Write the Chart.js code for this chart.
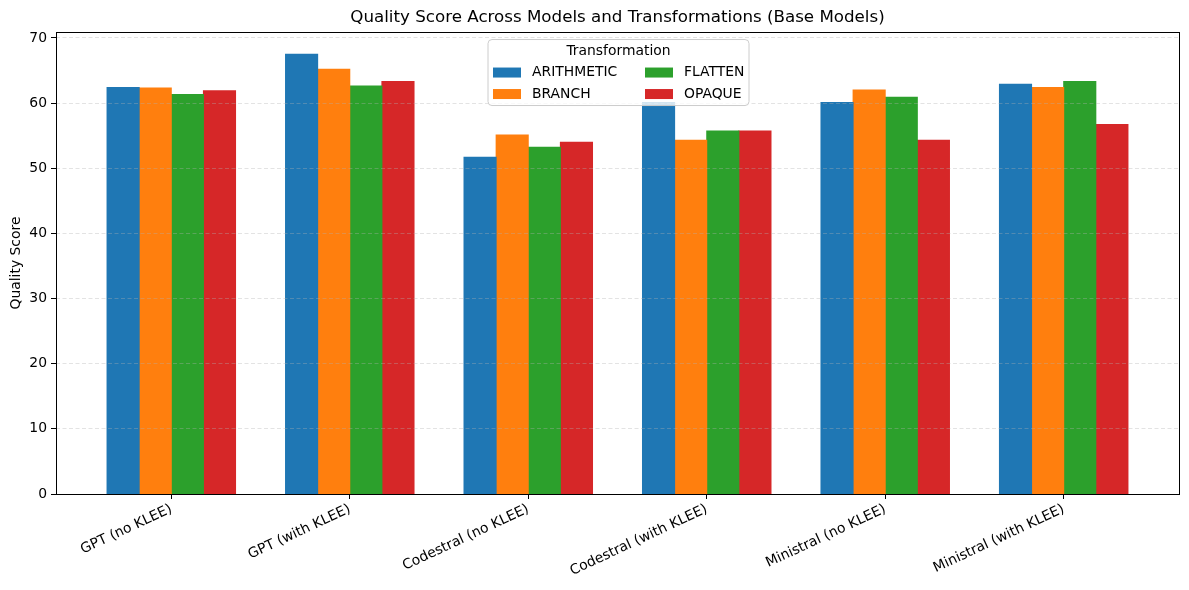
<!DOCTYPE html>
<html>
<head>
<meta charset="utf-8">
<script src="https://cdn.jsdelivr.net/npm/chart.js@4"></script>
<style>
  html, body { margin: 0; padding: 0; background: #fff; }
  canvas { display: block; }
</style>
</head>
<body>
<canvas id="myChart" width="1189" height="590"></canvas>
<script>
const categories = ['GPT (no KLEE)', 'GPT (with KLEE)', 'Codestral (no KLEE)', 'Codestral (with KLEE)', 'Ministral (no KLEE)', 'Ministral (with KLEE)'];
const arithmetic = [62.4, 67.5, 51.7, 60.1, 60.1, 62.9];
const branch     = [62.3, 65.2, 55.1, 54.3, 62.0, 62.4];
const flatten    = [61.3, 62.6, 53.2, 55.7, 60.9, 63.3];
const opaque     = [61.9, 63.3, 54.0, 55.7, 54.3, 56.7];
const yTicks = [0, 10, 20, 30, 40, 50, 60, 70];

const seriesNames = ['ARITHMETIC', 'BRANCH', 'FLATTEN', 'OPAQUE'];
const seriesValues = [arithmetic, branch, flatten, opaque];
const colors = ['#1f77b4', '#ff7f0e', '#2ca02c', '#d62728'];

Chart.defaults.font.family = 'DejaVu Sans';
Chart.defaults.font.size = 13.9;
Chart.defaults.color = '#000';

const ctx = document.getElementById('myChart');

// full box round the plot, like matplotlib spines
const framePlugin = {
  id: 'frame',
  afterDraw: (chart) => {
    const {ctx, chartArea: a} = chart;
    ctx.save();
    ctx.strokeStyle = '#000';
    ctx.lineWidth = 1;
    ctx.strokeRect(Math.round(a.left) + 0.5, Math.round(a.top) + 0.5,
      Math.round(a.right - a.left), Math.round(a.bottom - a.top));
    ctx.restore();
  }
};

// legend inside the plot, top centre, two columns
const boxLegend = {
  id: 'boxLegend',
  afterDraw: (chart) => {
    const {ctx, chartArea: a} = chart;
    const w = 261, h = 66;
    const x0 = (a.left + a.right) / 2 - w / 2 + 1;
    const y0 = a.top + 7.5;
    ctx.save();
    ctx.beginPath();
    ctx.roundRect(x0, y0, w, h, 4);
    ctx.fillStyle = 'rgba(255,255,255,0.8)';
    ctx.fill();
    ctx.strokeStyle = '#cccccc';
    ctx.lineWidth = 1;
    ctx.stroke();

    ctx.fillStyle = '#000';
    ctx.font = '13.9px "DejaVu Sans"';
    ctx.textAlign = 'center';
    ctx.textBaseline = 'middle';
    ctx.fillText('Transformation', x0 + w / 2, y0 + 12);

    ctx.textAlign = 'left';
    chart.data.datasets.forEach((ds, i) => {
      const col = Math.floor(i / 2), row = i % 2;
      const sx = x0 + 5 + col * 152;
      const sy = y0 + 33 + row * 21.5;
      ctx.fillStyle = ds.backgroundColor;
      ctx.fillRect(sx, sy - 5, 28, 10);
      ctx.fillStyle = '#000';
      ctx.fillText(ds.label, sx + 39, sy);
    });
    ctx.restore();
  }
};

new Chart(ctx, {
  type: 'bar',
  data: {
    datasets: seriesNames.map((name, s) => ({
      label: name,
      data: seriesValues[s].map((v, i) => ({x: i, y: v})),
      backgroundColor: colors[s],
      borderWidth: 0,
      inflateAmount: 0.5,
      categoryPercentage: 0.72,
      barPercentage: 1.0
    }))
  },
  options: {
    responsive: false,
    animation: false,
    layout: {padding: {left: 0, right: 10, top: 0, bottom: 0}},
    plugins: {
      legend: {display: false},
      tooltip: {enabled: false},
      title: {
        display: true,
        fullSize: false,
        text: 'Quality Score Across Models and Transformations (Base Models)',
        color: '#000',
        font: {size: 16.7, weight: 'normal'},
        padding: {top: 8, bottom: 4}
      }
    },
    scales: {
      x: {
        type: 'linear',
        offset: false,
        min: -0.646,
        max: 5.646,
        afterBuildTicks: (scale) => {
          scale.ticks = categories.map((c, i) => ({value: i}));
        },
        afterFit: (scale) => { scale.height = 96; },
        ticks: {
          autoSkip: false,
          minRotation: 25,
          maxRotation: 25,
          padding: 2,
          callback: (v) => categories[v]
        },
        grid: {
          offset: false,
          drawOnChartArea: false,
          drawTicks: true,
          tickLength: 5,
          tickColor: '#000'
        },
        border: {display: false}
      },
      y: {
        min: 0,
        max: 70.9,
        afterBuildTicks: (scale) => {
          scale.ticks = yTicks.map(v => ({value: v}));
        },
        afterFit: (scale) => { scale.width = 56; },
        ticks: {padding: 4, stepSize: 10},
        title: {
          display: true,
          text: 'Quality Score',
          font: {size: 13.9},
          padding: {top: 8, bottom: 0}
        },
        grid: {
          z: 1,
          color: 'rgba(176,176,176,0.45)',
          lineWidth: 0.8,
          drawTicks: true,
          tickLength: 5,
          tickColor: '#000',
          tickWidth: 1,
          tickBorderDash: []
        },
        border: {display: false, dash: [4, 2.5]}
      }
    }
  },
  plugins: [framePlugin, boxLegend]
});
</script>
</body>
</html>
